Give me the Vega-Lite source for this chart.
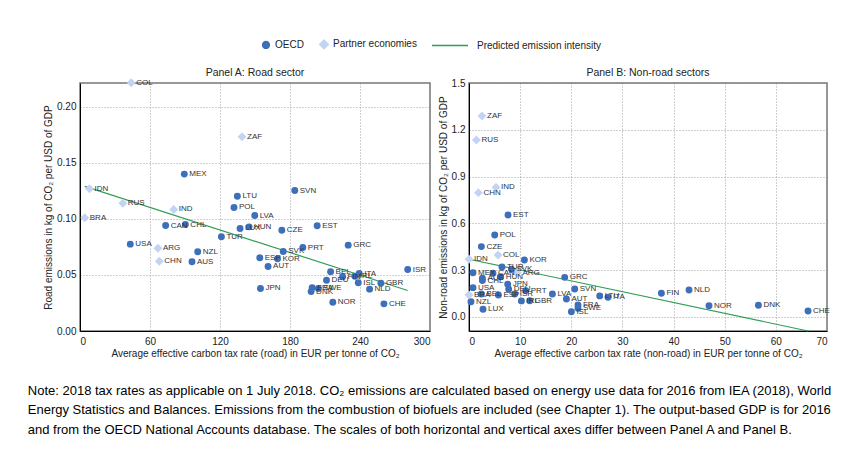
{
  "$schema": "https://vega.github.io/schema/vega-lite/v6.json",
  "background": "white",
  "padding": {"left": 27, "top": 39, "right": 5, "bottom": 5},
  "config": {
    "font": "Liberation Sans Narrow, Liberation Sans, Arial, sans-serif",
    "view": {"stroke": "#777", "strokeWidth": 1.5},
    "axis": {"grid": true, "gridDash": [1, 2], "gridColor": "#888", "gridWidth": 0.8, "domainColor": "#000", "domainWidth": 1, "ticks": false, "labelFontSize": 10, "titleFontSize": 10, "titleFontWeight": "normal", "labelColor": "#222", "titleColor": "#222"},
    "axisX": {"labelPadding": 5, "titlePadding": 2},
    "axisY": {"labelPadding": 4, "titlePadding": 3},
    "title": {"fontWeight": "normal", "fontSize": 10.5, "color": "#222"}
  },
  "datasets": {
    "road": [
      {"code": "COL", "tax": 43.9, "em": 0.2212, "group": "Partner economies"},
      {"code": "MEX", "tax": 89.4, "em": 0.1398, "group": "OECD"},
      {"code": "IDN", "tax": 8.2, "em": 0.1267, "group": "Partner economies"},
      {"code": "RUS", "tax": 36.7, "em": 0.1139, "group": "Partner economies"},
      {"code": "ZAF", "tax": 138.9, "em": 0.1731, "group": "Partner economies"},
      {"code": "LTU", "tax": 134.9, "em": 0.1201, "group": "OECD"},
      {"code": "IND", "tax": 80.3, "em": 0.1083, "group": "Partner economies"},
      {"code": "BRA", "tax": 4.1, "em": 0.1009, "group": "Partner economies"},
      {"code": "POL", "tax": 132.0, "em": 0.1101, "group": "OECD"},
      {"code": "CAN", "tax": 73.4, "em": 0.094, "group": "OECD"},
      {"code": "CHL", "tax": 90.3, "em": 0.0949, "group": "OECD"},
      {"code": "LUX", "tax": 137.2, "em": 0.0914, "group": "OECD"},
      {"code": "TUR", "tax": 121.2, "em": 0.084, "group": "OECD"},
      {"code": "USA", "tax": 43.1, "em": 0.0774, "group": "OECD"},
      {"code": "ARG", "tax": 66.8, "em": 0.0738, "group": "Partner economies"},
      {"code": "NZL", "tax": 100.9, "em": 0.0706, "group": "OECD"},
      {"code": "CHN", "tax": 68.0, "em": 0.0622, "group": "Partner economies"},
      {"code": "AUS", "tax": 96.0, "em": 0.0617, "group": "OECD"},
      {"code": "SVN", "tax": 184.1, "em": 0.1252, "group": "OECD"},
      {"code": "LVA", "tax": 149.8, "em": 0.1029, "group": "OECD"},
      {"code": "HUN", "tax": 144.9, "em": 0.0928, "group": "OECD"},
      {"code": "CZE", "tax": 173.0, "em": 0.0898, "group": "OECD"},
      {"code": "EST", "tax": 203.3, "em": 0.0938, "group": "OECD"},
      {"code": "SVK", "tax": 174.2, "em": 0.0709, "group": "OECD"},
      {"code": "PRT", "tax": 191.0, "em": 0.0744, "group": "OECD"},
      {"code": "ESP", "tax": 154.1, "em": 0.0652, "group": "OECD"},
      {"code": "KOR", "tax": 169.3, "em": 0.0643, "group": "OECD"},
      {"code": "AUT", "tax": 161.2, "em": 0.0575, "group": "OECD"},
      {"code": "JPN", "tax": 154.7, "em": 0.0379, "group": "OECD"},
      {"code": "GRC", "tax": 229.9, "em": 0.0765, "group": "OECD"},
      {"code": "BEL", "tax": 214.8, "em": 0.0528, "group": "OECD"},
      {"code": "DEU", "tax": 211.3, "em": 0.0452, "group": "OECD"},
      {"code": "FIN", "tax": 225.1, "em": 0.0483, "group": "OECD"},
      {"code": "IRL", "tax": 235.6, "em": 0.0488, "group": "OECD"},
      {"code": "ITA", "tax": 239.3, "em": 0.0512, "group": "OECD"},
      {"code": "ISL", "tax": 238.5, "em": 0.043, "group": "OECD"},
      {"code": "FRA", "tax": 199.0, "em": 0.0385, "group": "OECD"},
      {"code": "SWE", "tax": 204.3, "em": 0.0379, "group": "OECD"},
      {"code": "DNK", "tax": 198.1, "em": 0.0351, "group": "OECD"},
      {"code": "ISR", "tax": 280.9, "em": 0.0548, "group": "OECD"},
      {"code": "GBR", "tax": 257.9, "em": 0.0426, "group": "OECD"},
      {"code": "NLD", "tax": 248.2, "em": 0.0373, "group": "OECD"},
      {"code": "NOR", "tax": 216.7, "em": 0.0257, "group": "OECD"},
      {"code": "CHE", "tax": 260.5, "em": 0.0242, "group": "OECD"}
    ],
    "nonroad": [
      {"code": "ZAF", "tax": 2.54, "em": 1.288, "group": "Partner economies"},
      {"code": "RUS", "tax": 1.45, "em": 1.135, "group": "Partner economies"},
      {"code": "IND", "tax": 5.28, "em": 0.831, "group": "Partner economies"},
      {"code": "CHN", "tax": 1.84, "em": 0.797, "group": "Partner economies"},
      {"code": "EST", "tax": 7.63, "em": 0.654, "group": "OECD"},
      {"code": "POL", "tax": 5.03, "em": 0.526, "group": "OECD"},
      {"code": "CZE", "tax": 2.42, "em": 0.451, "group": "OECD"},
      {"code": "COL", "tax": 5.67, "em": 0.397, "group": "Partner economies"},
      {"code": "IDN", "tax": 0.0, "em": 0.37, "group": "Partner economies"},
      {"code": "KOR", "tax": 10.83, "em": 0.365, "group": "OECD"},
      {"code": "TUR", "tax": 6.45, "em": 0.321, "group": "OECD"},
      {"code": "SVK", "tax": 8.29, "em": 0.306, "group": "OECD"},
      {"code": "ARG", "tax": 9.46, "em": 0.284, "group": "Partner economies"},
      {"code": "MEX", "tax": 0.78, "em": 0.284, "group": "OECD"},
      {"code": "CAN", "tax": 4.69, "em": 0.28, "group": "OECD"},
      {"code": "AUS", "tax": 2.62, "em": 0.248, "group": "OECD"},
      {"code": "CHL", "tax": 2.62, "em": 0.233, "group": "OECD"},
      {"code": "HUN", "tax": 6.2, "em": 0.258, "group": "OECD"},
      {"code": "JPN", "tax": 7.57, "em": 0.21, "group": "OECD"},
      {"code": "DEU", "tax": 7.76, "em": 0.178, "group": "OECD"},
      {"code": "USA", "tax": 0.78, "em": 0.188, "group": "OECD"},
      {"code": "BRA", "tax": 0.0, "em": 0.141, "group": "Partner economies"},
      {"code": "BEL", "tax": 2.42, "em": 0.147, "group": "OECD"},
      {"code": "ESP", "tax": 5.75, "em": 0.141, "group": "OECD"},
      {"code": "ISR", "tax": 8.94, "em": 0.147, "group": "OECD"},
      {"code": "PRT", "tax": 11.09, "em": 0.169, "group": "OECD"},
      {"code": "NZL", "tax": 0.39, "em": 0.098, "group": "OECD"},
      {"code": "LUX", "tax": 2.74, "em": 0.049, "group": "OECD"},
      {"code": "IRL", "tax": 10.25, "em": 0.103, "group": "OECD"},
      {"code": "GBR", "tax": 11.87, "em": 0.104, "group": "OECD"},
      {"code": "LVA", "tax": 16.31, "em": 0.147, "group": "OECD"},
      {"code": "GRC", "tax": 18.71, "em": 0.254, "group": "OECD"},
      {"code": "SVN", "tax": 20.67, "em": 0.179, "group": "OECD"},
      {"code": "AUT", "tax": 19.05, "em": 0.115, "group": "OECD"},
      {"code": "FRA", "tax": 21.31, "em": 0.077, "group": "OECD"},
      {"code": "SWE", "tax": 21.31, "em": 0.056, "group": "OECD"},
      {"code": "ISL", "tax": 20.02, "em": 0.034, "group": "OECD"},
      {"code": "LTU", "tax": 25.56, "em": 0.135, "group": "OECD"},
      {"code": "ITA", "tax": 27.18, "em": 0.126, "group": "OECD"},
      {"code": "FIN", "tax": 37.62, "em": 0.152, "group": "OECD"},
      {"code": "NLD", "tax": 43.02, "em": 0.173, "group": "OECD"},
      {"code": "NOR", "tax": 46.93, "em": 0.072, "group": "OECD"},
      {"code": "DNK", "tax": 56.59, "em": 0.075, "group": "OECD"},
      {"code": "CHE", "tax": 66.29, "em": 0.038, "group": "OECD"}
    ],
    "lineA": [
      {"tax": 4.1, "em": 0.1289, "group": "Predicted emission intensity"},
      {"tax": 280.9, "em": 0.0361, "group": "Predicted emission intensity"}
    ],
    "lineB": [
      {"tax": 0.0, "em": 0.370, "group": "Predicted emission intensity"},
      {"tax": 66.3, "em": -0.090, "group": "Predicted emission intensity"}
    ]
  },
  "title": {
    "text": [
      "Note: 2018 tax rates as applicable on 1 July 2018. CO₂ emissions are calculated based on energy use data for 2016 from IEA (2018), World",
      "Energy Statistics and Balances. Emissions from the combustion of biofuels are included (see Chapter 1). The output-based GDP is for 2016",
      "and from the OECD National Accounts database. The scales of both horizontal and vertical axes differ between Panel A and Panel B."
    ],
    "orient": "bottom",
    "anchor": "start",
    "frame": "bounds",
    "font": "Liberation Sans, Arial, sans-serif",
    "fontSize": 13,
    "fontWeight": "normal",
    "lineHeight": 19.5,
    "offset": 26,
    "dx": -15,
    "color": "#000"
  },
  "hconcat": [
    {
      "width": 350,
      "height": 248,
      "title": {"text": "Panel A: Road sector", "offset": 0},
      "layer": [
        {
          "data": {"name": "lineA"},
          "mark": {"type": "line", "strokeWidth": 1.2},
          "encoding": {
            "x": {"field": "tax", "type": "quantitative", "scale": {"domain": [0, 300], "nice": false}, "axis": {"values": [0, 30, 60, 90, 120, 150, 180, 210, 240, 270, 300], "title": "Average effective carbon tax rate (road) in EUR per tonne of CO₂"}},
            "y": {"field": "em", "type": "quantitative", "scale": {"domain": [0, 0.221], "nice": false, "zero": false}, "axis": {"values": [0, 0.05, 0.1, 0.15, 0.2], "format": ".2f", "title": "Road emissions in kg of CO₂ per USD of GDP"}},
            "color": {"field": "group", "type": "nominal", "scale": {"domain": ["OECD", "Partner economies", "Predicted emission intensity"], "range": ["#3d6fba", "#c3d3f4", "#2f9e55"]}, "legend": {"title": null}}
          }
        },
        {
          "data": {"name": "road"},
          "transform": [{"filter": "datum.group === 'OECD'"}],
          "mark": {"type": "point", "filled": true, "size": 48, "opacity": 1},
          "encoding": {
            "x": {"field": "tax", "type": "quantitative"},
            "y": {"field": "em", "type": "quantitative"},
            "color": {"field": "group", "type": "nominal", "legend": {"title": null, "orient": "none", "legendX": 181, "legendY": -44, "direction": "horizontal", "labelFontSize": 10, "columnPadding": 12, "symbolOpacity": 1, "labelColor": "#222", "encode": {"symbols": {"update": {"stroke": {"signal": "datum.value === 'Predicted emission intensity' ? '#2f9e55' : 'transparent'"}, "strokeWidth": {"value": 1.3}, "size": {"signal": "datum.value === 'Predicted emission intensity' ? 1300 : datum.value === 'Partner economies' ? 80 : 48"}}}, "labels": {"update": {"dx": {"signal": "datum.value === 'Predicted emission intensity' ? 18 : 0"}}}}}},
            "shape": {"field": "group", "type": "nominal", "scale": {"domain": ["OECD", "Partner economies", "Predicted emission intensity"], "range": ["circle", "diamond", "stroke"]}, "legend": {"title": null}}
          }
        },
        {
          "data": {"name": "road"},
          "transform": [{"filter": "datum.group !== 'OECD'"}],
          "mark": {"type": "point", "filled": true, "size": 80, "opacity": 1},
          "encoding": {
            "x": {"field": "tax", "type": "quantitative"},
            "y": {"field": "em", "type": "quantitative"},
            "color": {"field": "group", "type": "nominal", "legend": {"title": null}},
            "shape": {"field": "group", "type": "nominal", "legend": {"title": null}}
          }
        },
        {
          "data": {"name": "road"},
          "mark": {"type": "text", "align": "left", "baseline": "middle", "dx": 5, "fontSize": 8, "color": "#333"},
          "encoding": {
            "x": {"field": "tax", "type": "quantitative"},
            "y": {"field": "em", "type": "quantitative"},
            "text": {"field": "code"}
          }
        }
      ]
    },
    {
      "width": 358,
      "height": 248,
      "title": {"text": "Panel B: Non-road sectors", "offset": 0},
      "layer": [
        {
          "data": {"name": "lineB"},
          "mark": {"type": "line", "strokeWidth": 1.2},
          "encoding": {
            "x": {"field": "tax", "type": "quantitative", "scale": {"domain": [0, 70], "nice": false}, "axis": {"values": [0, 5, 10, 15, 20, 25, 30, 35, 40, 45, 50, 55, 60, 65, 70], "title": "Average effective carbon tax rate (non-road) in EUR per tonne of CO₂"}},
            "y": {"field": "em", "type": "quantitative", "scale": {"domain": [-0.09, 1.5], "nice": false, "zero": false}, "axis": {"values": [0, 0.3, 0.6, 0.9, 1.2, 1.5], "format": ".1f", "title": "Non-road emissions in kg of CO₂ per USD of GDP"}},
            "color": {"field": "group", "type": "nominal", "legend": {"title": null}}
          }
        },
        {
          "data": {"name": "nonroad"},
          "transform": [{"filter": "datum.group === 'OECD'"}],
          "mark": {"type": "point", "filled": true, "size": 48, "opacity": 1},
          "encoding": {
            "x": {"field": "tax", "type": "quantitative"},
            "y": {"field": "em", "type": "quantitative"},
            "color": {"field": "group", "type": "nominal", "legend": {"title": null}},
            "shape": {"field": "group", "type": "nominal", "legend": {"title": null}}
          }
        },
        {
          "data": {"name": "nonroad"},
          "transform": [{"filter": "datum.group !== 'OECD'"}],
          "mark": {"type": "point", "filled": true, "size": 80, "opacity": 1},
          "encoding": {
            "x": {"field": "tax", "type": "quantitative"},
            "y": {"field": "em", "type": "quantitative"},
            "color": {"field": "group", "type": "nominal", "legend": {"title": null}},
            "shape": {"field": "group", "type": "nominal", "legend": {"title": null}}
          }
        },
        {
          "data": {"name": "nonroad"},
          "mark": {"type": "text", "align": "left", "baseline": "middle", "dx": 5, "fontSize": 8, "color": "#333"},
          "encoding": {
            "x": {"field": "tax", "type": "quantitative"},
            "y": {"field": "em", "type": "quantitative"},
            "text": {"field": "code"}
          }
        }
      ]
    }
  ],
  "spacing": 39,
  "bounds": "flush",
  "resolve": {"scale": {"x": "independent", "y": "independent", "color": "shared", "shape": "shared"}}
}
